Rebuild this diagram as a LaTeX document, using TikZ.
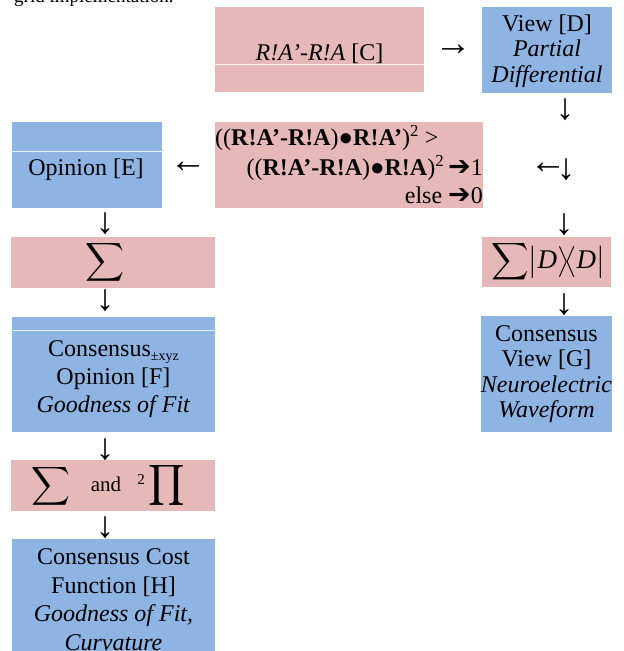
\documentclass[tikz,border=0pt]{standalone}
\usepackage{fontspec}
\setmainfont{Liberation Serif}
\newfontfamily\symfont{DejaVu Sans}
\usepackage{graphicx}
\definecolor{pinkbox}{HTML}{E6B8B7}
\definecolor{bluebox}{HTML}{8EB4E3}
\tikzset{
  box/.style={draw=none, inner sep=0pt, outer sep=0pt, align=center, font=\fontsize{24}{28}\selectfont},
  pinkb/.style={box, fill=pinkbox},
  blueb/.style={box, fill=bluebox},
  glyph/.style={inner sep=0pt, align=center, font=\fontsize{24}{28}\selectfont},
  arrowglyph/.style={inner sep=0pt, font=\fontsize{37}{40}\selectfont},
  seam/.style={white, line width=0.8pt, opacity=0.8},
}
\newcommand{\bigsum}{\scalebox{2.7}{$\displaystyle\sum$}}
\newcommand{\bigprod}{\scalebox{2.85}{$\displaystyle\prod$}}
\newcommand{\harrow}{{\symfont\bfseries\fontsize{27}{28}\selectfont ➔}}
\newcommand{\sizeddel}[1]{\scalebox{2.6}{$\left#1\vcenter{\hbox{\rule{0pt}{12.5pt}}}\right.\kern-\nulldelimiterspace$}}
\begin{document}
\begin{tikzpicture}[x=1pt,y=-1pt]
\useasboundingbox (0,0) rectangle (624,651);

% clipped body text at the top
\node[anchor=base west, inner sep=0pt, font=\fontsize{19}{24}\selectfont] (body) at (14,2) {grid implementation.};

% top row
\node[pinkb, minimum width=209pt, minimum height=85pt] (C) at (319.5,49.5) {};
\draw[seam] (215,64) -- (424,64);
\node[glyph] (Ct) at (319.5,54) {\textit{R!A’-R!A} [C]};
\node[arrowglyph] (a1) at (453,50) {→};
\node[blueb, minimum width=130pt, minimum height=86pt] (D) at (547,50) {};
\node[glyph, font=\fontsize{24}{25.5}\selectfont] (Dt) at (547,51)
  {View [D]\\\textit{Partial}\\\textit{Differential}};
\node[arrowglyph] (a2) at (565,110) {↓};

% condition row
\node[pinkb, minimum width=268pt, minimum height=86pt] (K) at (349,165) {};
\node[glyph, anchor=west] (K1) at (215,138)
  {((\textbf{R!A’-R!A})\textbf{●R!A’})\textsuperscript{2} >};
\node[glyph, anchor=east] (K2) at (483,168)
  {((\textbf{R!A’-R!A})\textbf{●R!A})\textsuperscript{2}\,\harrow1};
\node[glyph, anchor=east] (K3) at (483,195) {else \harrow0};
\node[arrowglyph] (a3) at (548,168) {←};
\node[arrowglyph] (a4) at (566,170) {↓};

\node[blueb, minimum width=150pt, minimum height=86pt] (E) at (87,165) {};
\draw[seam] (12,151) -- (162,151);
\node[glyph] (Et) at (86,170) {Opinion [E]};
\node[arrowglyph] (a5) at (188,167) {←};

% left column
\node[arrowglyph] (a6) at (105,224) {↓};
\node[pinkb, minimum width=204pt, minimum height=51pt] (S1) at (113,262.5) {};
\node[inner sep=0pt] (S1t) at (105,262) {\bigsum};
\node[arrowglyph] (a7) at (105,301) {↓};
\node[blueb, minimum width=203pt, minimum height=115pt] (F) at (113.5,374.5) {};
\draw[seam] (12,330) -- (215,330);
\node[glyph] (Ft) at (113.5,379.5)
  {Consensus{\fontsize{14}{14}\selectfont\raisebox{-4pt}{±xyz}}\\Opinion [F]\\\textit{Goodness of Fit}};
\node[arrowglyph] (a8) at (105,450) {↓};
\node[pinkb, minimum width=204pt, minimum height=51pt] (S2) at (113,485.5) {};
\node[inner sep=0pt] (S2a) at (51,486) {\bigsum};
\node[glyph] (S2b) at (106,484) {{\fontsize{21}{24}\selectfont and}};
\node[inner sep=0pt] (S2c) at (141,480) {{\fontsize{15}{15}\selectfont 2}};
\node[inner sep=0pt] (S2d) at (167,485) {\bigprod};
\node[arrowglyph] (a9) at (105,528) {↓};
\node[blueb, minimum width=203pt, minimum height=121pt, font=\fontsize{24}{28.5}\selectfont] (H) at (113.5,599.5)
  {Consensus Cost\\Function [H]\\\textit{Goodness of Fit,}\\\textit{Curvature}};

% right column
\node[arrowglyph] (a10) at (564,225) {↓};
\node[pinkb, minimum width=129pt, minimum height=50pt] (SD) at (546.5,262) {};
\node[inner sep=0pt] (SDt) at (548,262)
  {\scalebox{2.6}{$\displaystyle\sum$}\sizeddel{|}{\fontsize{27}{28}\selectfont\textit{D}}\sizeddel{\rangle}\kern-5pt\sizeddel{\langle}{\fontsize{27}{28}\selectfont\textit{D}}\sizeddel{|}};
\node[arrowglyph] (a11) at (564,305) {↓};
\node[blueb, minimum width=129pt, minimum height=116pt, font=\fontsize{24}{25.5}\selectfont] (G) at (546.5,374)
  {Consensus\\View [G]\\\textit{Neuroelectric}\\\textit{Waveform}};
\end{tikzpicture}
\end{document}
